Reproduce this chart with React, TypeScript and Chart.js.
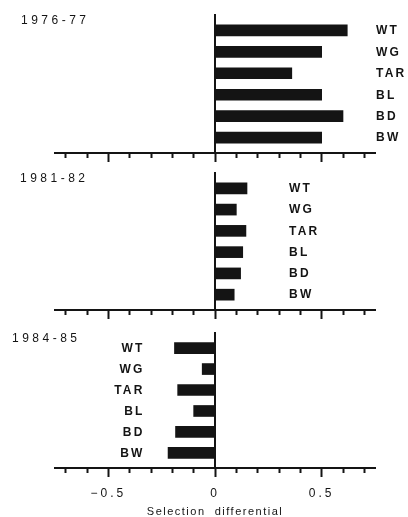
import React, { useEffect, useRef } from 'react';
import { Chart, registerables } from 'chart.js';

Chart.register(...registerables);

// ---- data ----
const categories = ['WT', 'WG', 'TAR', 'BL', 'BD', 'BW'];
const periods = ['1976-77', '1981-82', '1984-85'];
const values1976 = [0.62, 0.5, 0.36, 0.5, 0.6, 0.5];
const values1981 = [0.15, 0.1, 0.145, 0.13, 0.12, 0.09];
const values1984 = [-0.19, -0.06, -0.175, -0.1, -0.185, -0.22];
const tickValues = [-0.7, -0.6, -0.5, -0.4, -0.3, -0.2, -0.1, 0, 0.1, 0.2, 0.3, 0.4, 0.5, 0.6, 0.7];
const tickLabels = ['', '', '\u22120.5', '', '', '', '', '0', '', '', '', '', '0.5', '', ''];
const axisTitle = 'Selection  differential';

const INK = '#141414';
const FAMILY = "'Liberation Sans', Arial, Helvetica, sans-serif";

type PanelCfg = {
  period: string;
  values: number[];
  top: number;
  height: number;
  padTop: number;
  axisHeight: number;
  showTicks: boolean;
  labelAt: number;
  labelAlign: CanvasTextAlign;
  titleX: number;
};

const PANELS: PanelCfg[] = [
  { period: periods[0], values: values1976, top: 0, height: 165, padTop: 15, axisHeight: 12, showTicks: false, labelAt: 0.755, labelAlign: 'left', titleX: 21 },
  { period: periods[1], values: values1981, top: 165, height: 155, padTop: 8, axisHeight: 10, showTicks: false, labelAt: 0.347, labelAlign: 'left', titleX: 20 },
  { period: periods[2], values: values1984, top: 320, height: 197, padTop: 13, axisHeight: 49, showTicks: true, labelAt: -0.33, labelAlign: 'right', titleX: 12 },
];

const isMajor = (v: number | undefined) =>
  v !== undefined && Math.abs(v * 2 - Math.round(v * 2)) < 1e-9;

function makeLabelPlugin(cfg: PanelCfg) {
  return {
    id: 'panelLabels',
    beforeDraw(chart: any) {
      chart.ctx.letterSpacing = '1.5px';
    },
    afterDatasetsDraw(chart: any) {
      chart.ctx.letterSpacing = '3px';
    },
    afterDraw(chart: any) {
      const { ctx, scales, chartArea } = chart;
      const x = scales.x;
      const y = scales.y;
      ctx.save();
      ctx.fillStyle = INK;
      ctx.font = `bold 12px ${FAMILY}`;
      ctx.letterSpacing = '2.2px';
      ctx.textAlign = cfg.labelAlign;
      ctx.textBaseline = 'middle';
      categories.forEach((c, i) => {
        ctx.fillText(c, x.getPixelForValue(cfg.labelAt), y.getPixelForValue(i) + 0.5);
      });
      ctx.font = `12px ${FAMILY}`;
      ctx.letterSpacing = '3.5px';
      ctx.textAlign = 'left';
      ctx.textBaseline = 'top';
      ctx.fillText(cfg.period, cfg.titleX, chartArea.top);
      ctx.restore();
      ctx.letterSpacing = '0px';
    },
  };
}

function Panel({ cfg }: { cfg: PanelCfg }) {
  const ref = useRef<HTMLCanvasElement | null>(null);
  useEffect(() => {
    if (!ref.current) return;
    const chart = new Chart(ref.current, {
      type: 'bar',
      data: {
        datasets: [
          {
            data: cfg.values.map((v, i) => ({ x: v, y: i })),
            backgroundColor: INK,
            borderWidth: 0,
            barThickness: 11,
          } as any,
        ],
      },
      options: {
        indexAxis: 'y',
        animation: false,
        responsive: false,
        events: [],
        layout: { padding: { left: 55, right: 33, top: cfg.padTop, bottom: 0 } },
        plugins: {
          legend: { display: false },
          tooltip: { enabled: false },
          title: { display: false },
        },
        scales: {
          x: {
            type: 'linear',
            position: 'bottom',
            min: -0.75,
            max: 0.75,
            offset: false,
            afterBuildTicks: (s: any) => {
              s.ticks = tickValues.map((value) => ({ value }));
            },
            afterFit: (s: any) => {
              s.height = cfg.axisHeight;
            },
            border: { display: true, color: INK, width: 2 },
            grid: {
              display: true,
              offset: false,
              drawOnChartArea: false,
              drawTicks: true,
              tickLength: 9,
              tickWidth: 2,
              tickColor: INK,
              tickBorderDash: (c: any) => (isMajor(c.tick && c.tick.value) ? [] : [4, 20]),
            },
            ticks: {
              display: cfg.showTicks,
              autoSkip: false,
              maxRotation: 0,
              padding: 9,
              color: INK,
              z: 1,
              font: { family: FAMILY, size: 12 },
              callback: (_v: any, i: number) => tickLabels[i],
            },
            title: {
              display: cfg.showTicks,
              text: axisTitle,
              color: INK,
              font: { family: FAMILY, size: 11 },
              padding: { top: 0, bottom: -2 },
            },
          },
          y: {
            type: 'linear',
            min: -0.72,
            max: 5.72,
            reverse: true,
            offset: false,
            position: { x: 0 },
            ticks: { display: false },
            grid: { display: false, offset: false },
            border: { display: true, color: INK, width: 2 },
          },
        },
      } as any,
      plugins: [makeLabelPlugin(cfg)],
    });
    return () => chart.destroy();
  }, [cfg]);
  return (
    <div style={{ position: 'absolute', left: 0, top: cfg.top, width: 408, height: cfg.height }}>
      <canvas ref={ref} width={408} height={cfg.height} style={{ display: 'block', width: 408, height: cfg.height }} />
    </div>
  );
}

export default function App() {
  return (
    <div style={{ position: 'absolute', left: 0, top: 0, width: 408, height: 517, background: '#fff' }}>
      {PANELS.map((p) => (
        <Panel key={p.period} cfg={p} />
      ))}
    </div>
  );
}
